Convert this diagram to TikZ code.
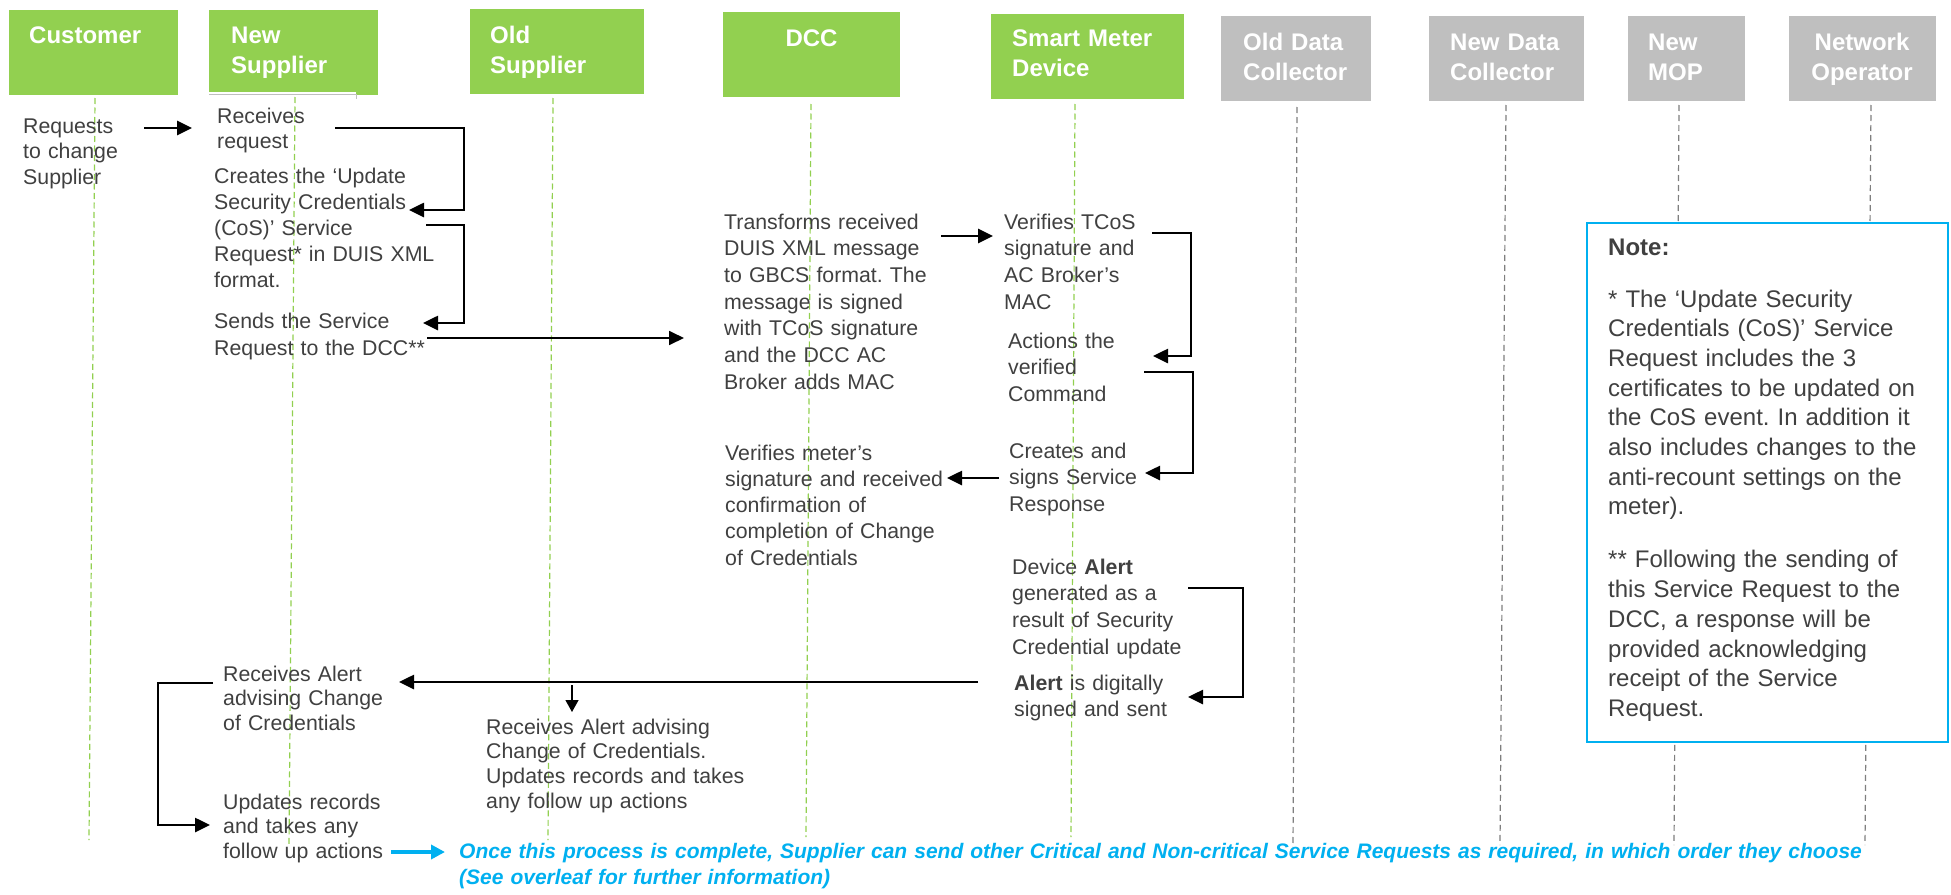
\documentclass[tikz,border=0pt]{standalone}
\usepackage{fontspec}
\setmainfont{Liberation Sans}
\usetikzlibrary{arrows.meta}
\definecolor{hgreen}{HTML}{92D050}
\definecolor{hgray}{HTML}{BFBFBF}
\definecolor{txtgray}{HTML}{404040}
\definecolor{lgray}{HTML}{7F7F7F}
\definecolor{nblue}{HTML}{00B0F0}
\frenchspacing
\begin{document}
\frenchspacing
\begin{tikzpicture}[x=1pt,y=-1pt,
  hbox/.style={rectangle, inner sep=0pt, outer sep=0pt, anchor=north west},
  gbox/.style={hbox, fill=hgreen},
  ybox/.style={hbox, fill=hgray},
  htxt/.style={anchor=base west, inner sep=0pt, align=left, text width=200pt, text=white, font=\fontsize{24}{30}\selectfont\bfseries},
  htxtc/.style={anchor=base, inner sep=0pt, align=center, text width=160pt, text=white, font=\fontsize{24}{30}\selectfont\bfseries},
  body/.style={anchor=base west, inner sep=0pt, align=left, text width=320pt, text=txtgray, font=\fontsize{21.3}{#1}\selectfont\frenchspacing},
  body/.default=26.5,
  gline/.style={hgreen, line width=1.2pt, dash pattern=on 6pt off 3.5pt},
  kline/.style={lgray, line width=1.2pt, dash pattern=on 6pt off 4pt},
  arr/.style={line width=2.6pt, -{Triangle[length=15pt,width=14pt]}},
  thinarr/.style={line width=1.2pt, -{Triangle[length=12pt,width=13pt]}},
  bluearr/.style={nblue, line width=3.6pt, -{Triangle[length=14pt,width=14pt]}}
]
\path[fill=white] (0,0) rectangle (1951,894);
\useasboundingbox (0,0) rectangle (1951,894);

% ---------- header boxes ----------
\node[gbox, minimum width=169pt, minimum height=85pt] (hCust) at (9,10) {};
\node[gbox, minimum width=169pt, minimum height=85pt] (hNS) at (209,10) {};
\node[gbox, minimum width=174pt, minimum height=85pt] (hOS) at (470,9) {};
\node[gbox, minimum width=177pt, minimum height=85pt] (hDCC) at (723,12) {};
\node[gbox, minimum width=193pt, minimum height=85pt] (hSMD) at (991,14) {};
\node[ybox, minimum width=150pt, minimum height=85pt] (hODC) at (1221,16) {};
\node[ybox, minimum width=155pt, minimum height=85pt] (hNDC) at (1429,16) {};
\node[ybox, minimum width=117pt, minimum height=85pt] (hMOP) at (1628,16) {};
\node[ybox, minimum width=147pt, minimum height=85pt] (hNO) at (1789,16) {};

\node[htxt] (tCust) at (29,43) {Customer};
\node[htxt] (tNS) at (231,43) {New\\Supplier};
\node[htxt] (tOS) at (490,43) {Old\\Supplier};
\node[htxtc] (tDCC) at (811.5,46) {DCC};
\node[htxt] (tSMD) at (1012,46) {Smart Meter\\Device};
\node[htxt] (tODC) at (1243,50) {Old Data\\Collector};
\node[htxt] (tNDC) at (1450,50) {New Data\\Collector};
\node[htxt] (tMOP) at (1648,50) {New\\MOP};
\node[htxtc] (tNO) at (1862,50) {Network\\Operator};

% thin outline under New Supplier header
\draw[white, line width=2pt] (209,92.5) -- (356,92.5);
\draw[black!25, line width=0.8pt] (209,94.8) -- (356,94.8) -- (356,99);

% ---------- lifelines ----------
\coordinate (lCustT) at (95,98);   \coordinate (lCustB) at (89,840);
\coordinate (lNST) at (295,97);    \coordinate (lNSB) at (289,847);
\coordinate (lOST) at (553,98);    \coordinate (lOSB) at (548,840);
\coordinate (lDCCT) at (811,104);  \coordinate (lDCCB) at (806,837);
\coordinate (lSMDT) at (1075,104); \coordinate (lSMDB) at (1071,837);
\coordinate (lODCT) at (1297,107); \coordinate (lODCB) at (1293,847);
\coordinate (lNDCT) at (1506,105); \coordinate (lNDCB) at (1500,845);
\coordinate (lMOPT) at (1679,105); \coordinate (lMOPB) at (1674,845);
\coordinate (lNOT) at (1871,105);  \coordinate (lNOB) at (1865,845);
\draw[gline] (lCustT) -- (lCustB);
\draw[gline] (lNST) -- (lNSB);
\draw[gline] (lOST) -- (lOSB);
\draw[gline] (lDCCT) -- (lDCCB);
\draw[gline] (lSMDT) -- (lSMDB);
\draw[kline] (lODCT) -- (lODCB);
\draw[kline] (lNDCT) -- (lNDCB);
\draw[kline] (lMOPT) -- (lMOPB);
\draw[kline] (lNOT) -- (lNOB);

% ---------- note box ----------
\node[hbox, draw=nblue, line width=1.5pt, fill=white, minimum width=361pt, minimum height=519pt] (note) at (1587,223) {};
\node[anchor=base west, inner sep=0pt, align=left, text width=330pt, text=txtgray, font=\fontsize{24}{29.7}\selectfont\frenchspacing] (notet) at (1608,255)
 {\textbf{Note:}\\[22.3pt]
  * The ‘Update Security\\
  Credentials (CoS)’ Service\\
  Request includes the 3\\
  certificates to be updated on\\
  the CoS event. In addition it\\
  also includes changes to the\\
  anti-recount settings on the\\
  meter).\\[23.3pt]
  ** Following the sending of\\
  this Service Request to the\\
  DCC, a response will be\\
  provided acknowledging\\
  receipt of the Service\\
  Request.};

% ---------- text blocks ----------
\node[body=25.5] (cust) at (23,133) {Requests\\to change\\Supplier};
\node[body=25] (nsRecv) at (217,123) {Receives\\request};
\node[body=26] (nsCreate) at (214,183) {Creates the ‘Update\\Security Credentials\\(CoS)’ Service\\Request* in DUIS XML\\format.};
\node[body=27] (nsSend) at (214,328) {Sends the Service\\Request to the DCC**};
\node[body=26.7] (dccTrans) at (724,229) {Transforms received\\DUIS XML message\\to GBCS format. The\\message is signed\\with TCoS signature\\and the DCC AC\\Broker adds MAC};
\node[body=26.7] (smdVer) at (1004,229) {Verifies TCoS\\signature and\\AC Broker’s\\MAC};
\node[body=26.7] (smdAct) at (1008,348) {Actions the\\verified\\Command};
\node[body=26.5] (smdResp) at (1009,458) {Creates and\\signs Service\\Response};
\node[body=26.3] (dccVer) at (725,460) {Verifies meter’s\\signature and received\\confirmation of\\completion of Change\\of Credentials};
\node[body=26.7] (smdAlert) at (1012,574) {Device \textbf{Alert}\\generated as a\\result of Security\\Credential update};
\node[body=26.7] (smdSent) at (1014,690) {\textbf{Alert} is digitally\\signed and sent};
\node[body=24.5] (nsAlert) at (223,681) {Receives Alert\\advising Change\\of Credentials};
\node[body=24.5] (nsUpd) at (223,809) {Updates records\\and takes any\\follow up actions};
\node[body=24.7] (osAlert) at (486,734) {Receives Alert advising\\Change of Credentials.\\Updates records and takes\\any follow up actions};
\node[anchor=base west, inner sep=0pt, align=left, text width=1480pt, text=nblue, font=\fontsize{21}{26.5}\selectfont\bfseries\itshape\frenchspacing] (final) at (459,858)
 {Once this process is complete, Supplier can send other Critical and Non-critical Service Requests as required, in which order they choose\\(See overleaf for further information)};

% ---------- connectors ----------
\coordinate (c1s) at (144,128); \coordinate (c1e) at (192,128);
\draw[arr] (c1s) -- (c1e);

\coordinate (b1s) at (335,128); \coordinate (b1a) at (464,128); \coordinate (b1b) at (464,210); \coordinate (b1e) at (409,210);
\draw[arr] (b1s) -- (b1a) -- (b1b) -- (b1e);

\coordinate (b2s) at (426,225); \coordinate (b2a) at (464,225); \coordinate (b2b) at (464,323); \coordinate (b2e) at (423,323);
\draw[arr] (b2s) -- (b2a) -- (b2b) -- (b2e);

\coordinate (c2s) at (427,338); \coordinate (c2e) at (684,338);
\draw[line width=1.8pt, -{Triangle[length=15pt,width=14pt]}] (c2s) -- (c2e);

\coordinate (c3s) at (941,236); \coordinate (c3e) at (993,236);
\draw[arr] (c3s) -- (c3e);

\coordinate (b3s) at (1152,233); \coordinate (b3a) at (1191,233); \coordinate (b3b) at (1191,356); \coordinate (b3e) at (1153,356);
\draw[arr] (b3s) -- (b3a) -- (b3b) -- (b3e);

\coordinate (b4s) at (1144,372); \coordinate (b4a) at (1193,372); \coordinate (b4b) at (1193,473); \coordinate (b4e) at (1145,473);
\draw[arr] (b4s) -- (b4a) -- (b4b) -- (b4e);

\coordinate (c4s) at (999,478); \coordinate (c4e) at (947,478);
\draw[arr] (c4s) -- (c4e);

\coordinate (b5s) at (1188,588); \coordinate (b5a) at (1243,588); \coordinate (b5b) at (1243,697); \coordinate (b5e) at (1188,697);
\draw[arr] (b5s) -- (b5a) -- (b5b) -- (b5e);

\coordinate (c5s) at (978,682); \coordinate (c5e) at (399,682);
\draw[arr] (c5s) -- (c5e);

\coordinate (c6s) at (572,685); \coordinate (c6e) at (572,712);
\draw[thinarr] (c6s) -- (c6e);

\coordinate (b6s) at (213,683); \coordinate (b6a) at (158,683); \coordinate (b6b) at (158,825); \coordinate (b6e) at (210,825);
\draw[arr] (b6s) -- (b6a) -- (b6b) -- (b6e);

\coordinate (c7s) at (391,852); \coordinate (c7e) at (445,852);
\draw[bluearr] (c7s) -- (c7e);
\end{tikzpicture}
\end{document}
